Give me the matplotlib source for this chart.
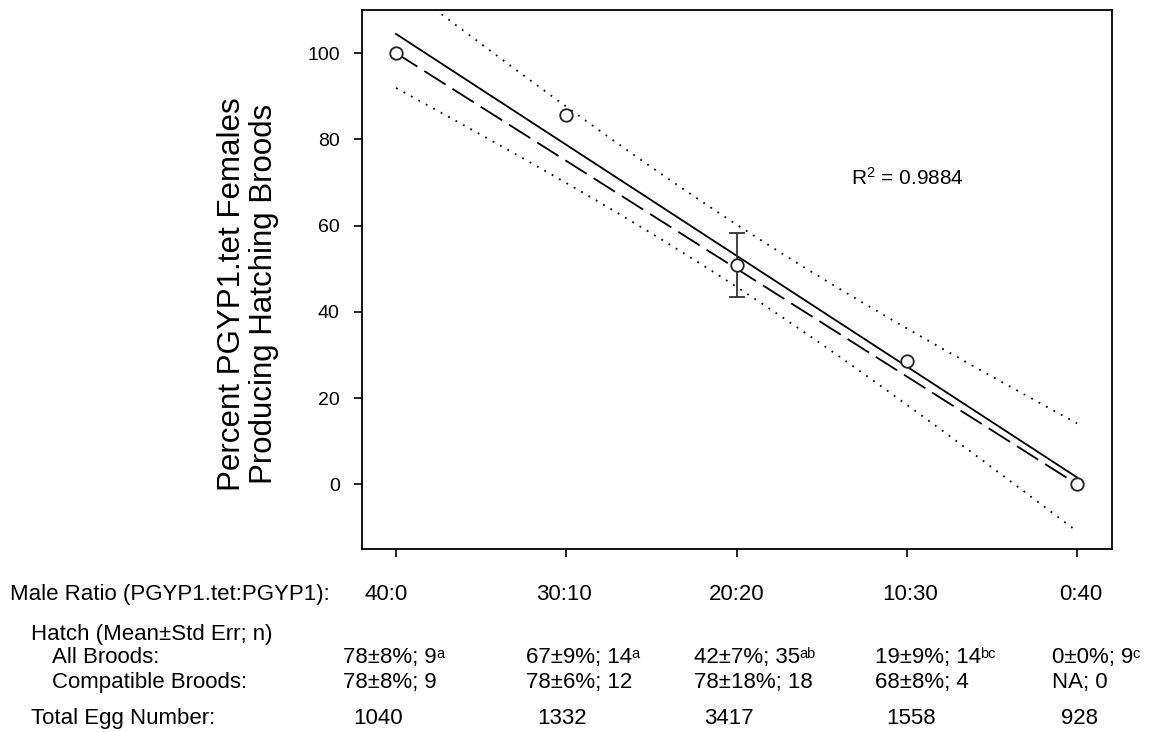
import numpy as np
import matplotlib
matplotlib.use('Agg')
import matplotlib.pyplot as plt

plt.rcParams['font.family'] = ['Liberation Sans', 'DejaVu Sans']
plt.rcParams['mathtext.fontset'] = 'custom'
plt.rcParams['mathtext.rm'] = 'Liberation Sans'
plt.rcParams['mathtext.default'] = 'regular'

# Dados
ratio_labels = ['40:0', '30:10', '20:20', '10:30', '0:40']
pct_hatching = [100, 85.7, 50.8, 28.6, 0]
pct_sem = [0, 0, 7.4, 0, 0]
expected_pct = [100, 75, 50, 25, 0]
all_broods = ['78±8%; 9', '67±9%; 14', '42±7%; 35', '19±9%; 14', '0±0%; 9']
all_broods_sig = ['a', 'a', 'ab', 'bc', 'c']
compatible_broods = ['78±8%; 9', '78±6%; 12', '78±18%; 18', '68±8%; 4', 'NA; 0']
total_eggs = [1040, 1332, 3417, 1558, 928]
r2_label = 'R$^2$ = 0.9884'
T_CRIT = 3.182  # t(0.975, df=3)

W, H = 1152, 732

def fx(px):
    return px / W

def fy(py):
    return 1 - py / H

fig = plt.figure(figsize=(W / 100, H / 100), dpi=100)
ax = fig.add_axes([fx(362), fy(549), fx(1112) - fx(362), fy(10) - fy(549)])

x = np.arange(len(ratio_labels))
y = np.array(pct_hatching)

# Regressao linear + banda de confianca 95%
slope, intercept = np.polyfit(x, y, 1)
xs = np.linspace(x.min(), x.max(), 200)
fit = intercept + slope * xs
resid = y - (intercept + slope * x)
s = np.sqrt(np.sum(resid ** 2) / (len(x) - 2))
sxx = np.sum((x - x.mean()) ** 2)
half = T_CRIT * s * np.sqrt(1 / len(x) + (xs - x.mean()) ** 2 / sxx)

ax.plot(xs, fit, color='black', lw=1.3)
ax.plot(x, expected_pct, color='black', lw=1.3, dashes=(14, 4.5))
ax.plot(xs, fit + half, color='black', lw=1.3, linestyle=(0, (1, 3.7)))
ax.plot(xs, fit - half, color='black', lw=1.3, linestyle=(0, (1, 3.7)))

sem = np.array(pct_sem)
has_err = sem > 0
ax.errorbar(x[has_err], y[has_err], yerr=sem[has_err], fmt='none',
            ecolor='#333333', elinewidth=1.3, capsize=6, capthick=1.3)
ax.plot(x, y, 'o', ms=9, mfc='white', mec='#222222', mew=1.3, zorder=5)

ax.set_xlim(-0.2, 4.205)
ax.set_ylim(-15, 110)
ax.set_yticks([0, 20, 40, 60, 80, 100])
ax.set_xticks(x)
ax.set_xticklabels([])
ax.tick_params(axis='both', direction='out', length=6, width=1.2, labelsize=14, pad=10)
for sp in ax.spines.values():
    sp.set_linewidth(1.3)

ax.text(2.67, 71, r2_label, fontsize=15, ha='left', va='center')

fig.text(fx(248), fy(294), 'Percent PGYP1.tet Females\nProducing Hatching Broods',
         rotation=90, ha='center', va='center', fontsize=22.5, linespacing=1.07)

# Tabela abaixo do grafico
fs = 16
fig.text(fx(10), fy(600), 'Male Ratio (PGYP1.tet:PGYP1):', fontsize=fs, va='baseline')
fig.text(fx(31), fy(640), 'Hatch (Mean±Std Err; n)', fontsize=fs, va='baseline')
fig.text(fx(52), fy(663), 'All Broods:', fontsize=fs, va='baseline')
fig.text(fx(52), fy(688), 'Compatible Broods:', fontsize=fs, va='baseline')
fig.text(fx(31), fy(724), 'Total Egg Number:', fontsize=fs, va='baseline')

ratio_center = [386, 564, 737, 910, 1081]
col_left = [343, 526, 694, 875, 1052]
egg_center = [378, 562, 729, 911, 1080]
for i in range(len(ratio_labels)):
    fig.text(fx(ratio_center[i]), fy(600), ratio_labels[i], fontsize=fs,
             ha='center', va='baseline')
    t = fig.text(fx(col_left[i]), fy(663), all_broods[i], fontsize=fs, va='baseline')
    fig.add_artist(plt.Annotation(all_broods_sig[i], xy=(1, fy(663)),
                                  xycoords=(t, 'figure fraction'),
                                  xytext=(-0.5, 3.8), textcoords='offset points',
                                  fontsize=10.5, va='baseline', ha='left'))
    fig.text(fx(col_left[i]), fy(688), compatible_broods[i], fontsize=fs, va='baseline')
    fig.text(fx(egg_center[i]), fy(724), str(total_eggs[i]), fontsize=fs,
             ha='center', va='baseline')

fig.savefig('out.png', dpi=100)
